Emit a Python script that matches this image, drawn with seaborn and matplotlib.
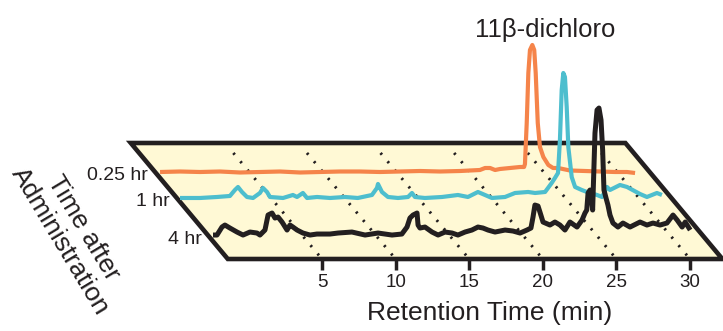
import numpy as np
import matplotlib
matplotlib.use("Agg")
import matplotlib.pyplot as plt
import matplotlib.transforms as mtransforms
from matplotlib.patches import Polygon
import seaborn as sns

# ------------------------------------------------------------------ data
# retention time (min) and signal height (arbitrary units) of each trace
orange_t = [-1.06, 0.30, 1.65, 3.01, 4.37, 5.73, 7.09, 8.45, 9.81, 11.16, 12.52,
            13.88, 15.24, 16.60, 17.96, 19.32, 20.67, 21.02, 21.36, 21.70, 22.03,
            22.71, 23.39, 23.67, 23.73, 23.85, 23.96, 24.07, 24.23, 24.36, 24.46,
            24.60, 24.75, 24.98, 25.32, 25.64, 25.98, 26.79, 27.81, 28.83, 29.85,
            30.66, 31.21]
orange_h = [0, 0.5, 0, 0.5, -0.5, 0, 0.5, -0.5, 0, 0.5, 0.5, 0, 0.5, 1, 0.5, 1,
            2, 4, 4, 2, 3, 4, 5, 5, 8, 49, 99, 122, 127, 122, 99, 49, 25, 15, 7,
            4, 4, 1.5, 1, 0.5, 0, 0, -1]

cyan_t = [-1.18, 0.18, 1.33, 2.21, 2.55, 2.76, 3.03, 3.37, 3.78, 4.25, 4.46, 4.73,
          4.93, 5.82, 6.49, 6.77, 7.17, 7.45, 8.13, 9.01, 10.03, 10.90, 11.86,
          12.20, 12.27, 12.54, 12.95, 13.63, 14.31, 14.58, 14.78, 15.46, 16.62,
          17.70, 18.38, 19.06, 19.54, 20.01, 20.90, 21.58, 22.47, 22.94, 23.62,
          24.07, 24.29, 24.50, 24.63, 24.75, 24.86, 24.97, 25.09, 25.20, 25.43,
          25.66, 26.11, 26.47, 27.15, 27.49, 27.83, 28.03, 28.71, 29.19, 30.07,
          30.54, 31.22, 31.56]
cyan_h = [0, 0, 1, 2, 8, 11, 6, 1, 0, 5, 10, 6, 1, 0, 3, 1, 5, 0, 1, 0, 1, 0, 3,
          10, 14, 6, 1, 0, 1, 5, 1, 0, 1, 3, 1, 6, 3, 0, 1, 5, 6, 5, 6, 15, 20,
          25, 58, 108, 125, 121, 91, 51, 21, 11, 8, 6, 3, 1, 11, 8, 13, 11, 4, 1,
          5, 3]

black_t = [-1.10, -0.83, -0.49, -0.29, 0.05, 0.53, 0.94, 1.41, 1.89, 2.09, 2.43,
           2.64, 2.91, 3.11, 3.32, 3.59, 3.93, 4.13, 4.33, 4.61, 5.01, 5.49, 5.96,
           6.85, 7.39, 8.34, 9.23, 10.11, 11.06, 11.73, 12.08, 12.28, 12.49, 12.76,
           12.83, 12.96, 13.30, 13.78, 14.19, 14.66, 15.14, 15.54, 16.02, 16.49,
           16.90, 17.24, 17.58, 18.06, 18.74, 19.28, 19.76, 20.23, 20.50, 20.64,
           20.77, 20.98, 21.11, 21.32, 21.79, 22.13, 22.47, 22.81, 23.15, 23.63,
           23.97, 24.17, 24.29, 24.38, 24.51, 24.63, 24.69, 24.85, 24.99, 25.12,
           25.26, 25.37, 25.46, 25.60, 25.73, 25.87, 26.07, 26.41, 26.75, 27.23,
           27.91, 28.38, 28.79, 29.27, 29.74, 30.15, 30.43, 30.77, 30.98, 31.32]
black_h = [1, 1, 9, 11, 8, 4, 1, 4, 3, 1, 6, 21, 23, 18, 19, 14, 6, 11, 9, 6, 3,
           1, 2, 2, 3, 4, 1, 3, 1, 2, 9, 18, 21, 23, 11, 8, 9, 4, 1, 4, 3, 1, 4, 6,
           9, 8, 6, 4, 6, 5, 3, 6, 8, 19, 31, 30, 24, 14, 11, 14, 11, 6, 14, 9, 16,
           23, 26, 43, 46, 36, 26, 103, 126, 128, 116, 86, 46, 38, 31, 21, 13, 9,
           13, 9, 14, 11, 13, 11, 13, 21, 16, 9, 14, 6]

trace_labels = ["0.25 hr", "1 hr", "4 hr"]
tick_minutes = [5, 10, 15, 20, 25, 30]
tick_labels = ["5", "10", "15", "20", "25", "30"]
peak_label = "11\u03b2-dichloro"
x_label = "Retention Time (min)"
depth_label = "Time after\nAdministration"

# ------------------------------------------------------------------ style
sns.set_theme(style="white")
plt.rcParams["font.family"] = ["Liberation Sans", "DejaVu Sans"]

INK = "#231F20"
COLORS = ["#F5844A", "#4DBECE", INK]
WIDTHS = [3.0, 3.0, 3.6]
FLOOR = "#FFF9D5"

W, H = 723, 331
fig = plt.figure(figsize=(W / 100, H / 100), dpi=100)
fig.patch.set_facecolor("white")
ax = fig.add_axes([0, 72 / H, 1, 259 / H])

PX_PER_MIN = 14.72
X0_PX = 151.4
SHEAR = 97 / PX_PER_MIN          # horizontal shift over full depth (min units)
DEPTH = 116                       # vertical extent of the floor (y units)
T_MIN, T_MAX = -1.4, 32.2
trace_depth = [0.25, 0.474, 0.802]
dot_start = 0.086

ax.set_xlim(-X0_PX / PX_PER_MIN, (W - X0_PX) / PX_PER_MIN)
ax.set_ylim(-DEPTH, 143)

# (retention time, depth fraction) -> axes data
floor_tf = mtransforms.Affine2D(np.array([[1.0, SHEAR, 0.0],
                                          [0.0, -DEPTH, 0.0],
                                          [0.0, 0.0, 1.0]])) + ax.transData

floor = Polygon([(T_MIN, 0), (T_MAX, 0), (T_MAX, 1), (T_MIN, 1)], closed=True,
                transform=floor_tf, facecolor=FLOOR, edgecolor=INK,
                linewidth=3.3, joinstyle="miter", zorder=1, clip_on=False)
ax.add_patch(floor)

for m in tick_minutes:
    ln, = ax.plot([m, m], [dot_start, 1.0], transform=floor_tf, color=INK,
                  zorder=2)
    ln.set_linewidth(2.1)
    ln.set_dashes((0.75, 3.0))

series = [(orange_t, orange_h), (cyan_t, cyan_h), (black_t, black_h)]
for (t, h), d, c, lw, lab in zip(series, trace_depth, COLORS, WIDTHS, trace_labels):
    tr = mtransforms.Affine2D().translate(SHEAR * d, -DEPTH * d) + ax.transData
    n_before = len(ax.lines)
    sns.lineplot(x=t, y=h, ax=ax, color=c, sort=False, estimator=None,
                 legend=False, transform=tr, zorder=3)
    for ln in ax.lines[n_before:]:
        ln.set_linewidth(lw)
        ln.set_solid_joinstyle("round")
        ln.set_solid_capstyle("butt")
    lab_tf = mtransforms.offset_copy(floor_tf, fig=fig, x=-7, y=-3.5, units="dots")
    ax.text(T_MIN, d, lab, transform=lab_tf, ha="right", va="center",
            fontsize=14, color=INK)

ax.set_xlim(-X0_PX / PX_PER_MIN, (W - X0_PX) / PX_PER_MIN)
ax.set_ylim(-DEPTH, 143)

ax.set_xticks([m + SHEAR for m in tick_minutes])
ax.set_xticklabels(tick_labels)
ax.tick_params(axis="x", bottom=True, direction="out", length=8, width=2.5,
               color=INK, pad=3, labelsize=13.5, labelcolor=INK)
ax.tick_params(axis="y", left=False, labelleft=False)
ax.set_yticks([])
for sp in ax.spines.values():
    sp.set_visible(False)
ax.set_facecolor("none")

ax.set_xlabel(x_label, fontsize=19, color=INK)
ax.xaxis.label.set_va("baseline")
ax.xaxis.set_label_coords(490 / W, -61 / 259)
ax.set_ylabel("")

ax.text(26.74, 106, peak_label, ha="center", va="baseline", fontsize=18.5,
        color=INK)

fig.text(71.5 / W, 1 - 234.5 / H, depth_label, rotation=-59,
         rotation_mode="anchor", ha="center", va="center",
         multialignment="center", fontsize=19, color=INK, linespacing=1.15)

fig.savefig("out.png", dpi=100)
